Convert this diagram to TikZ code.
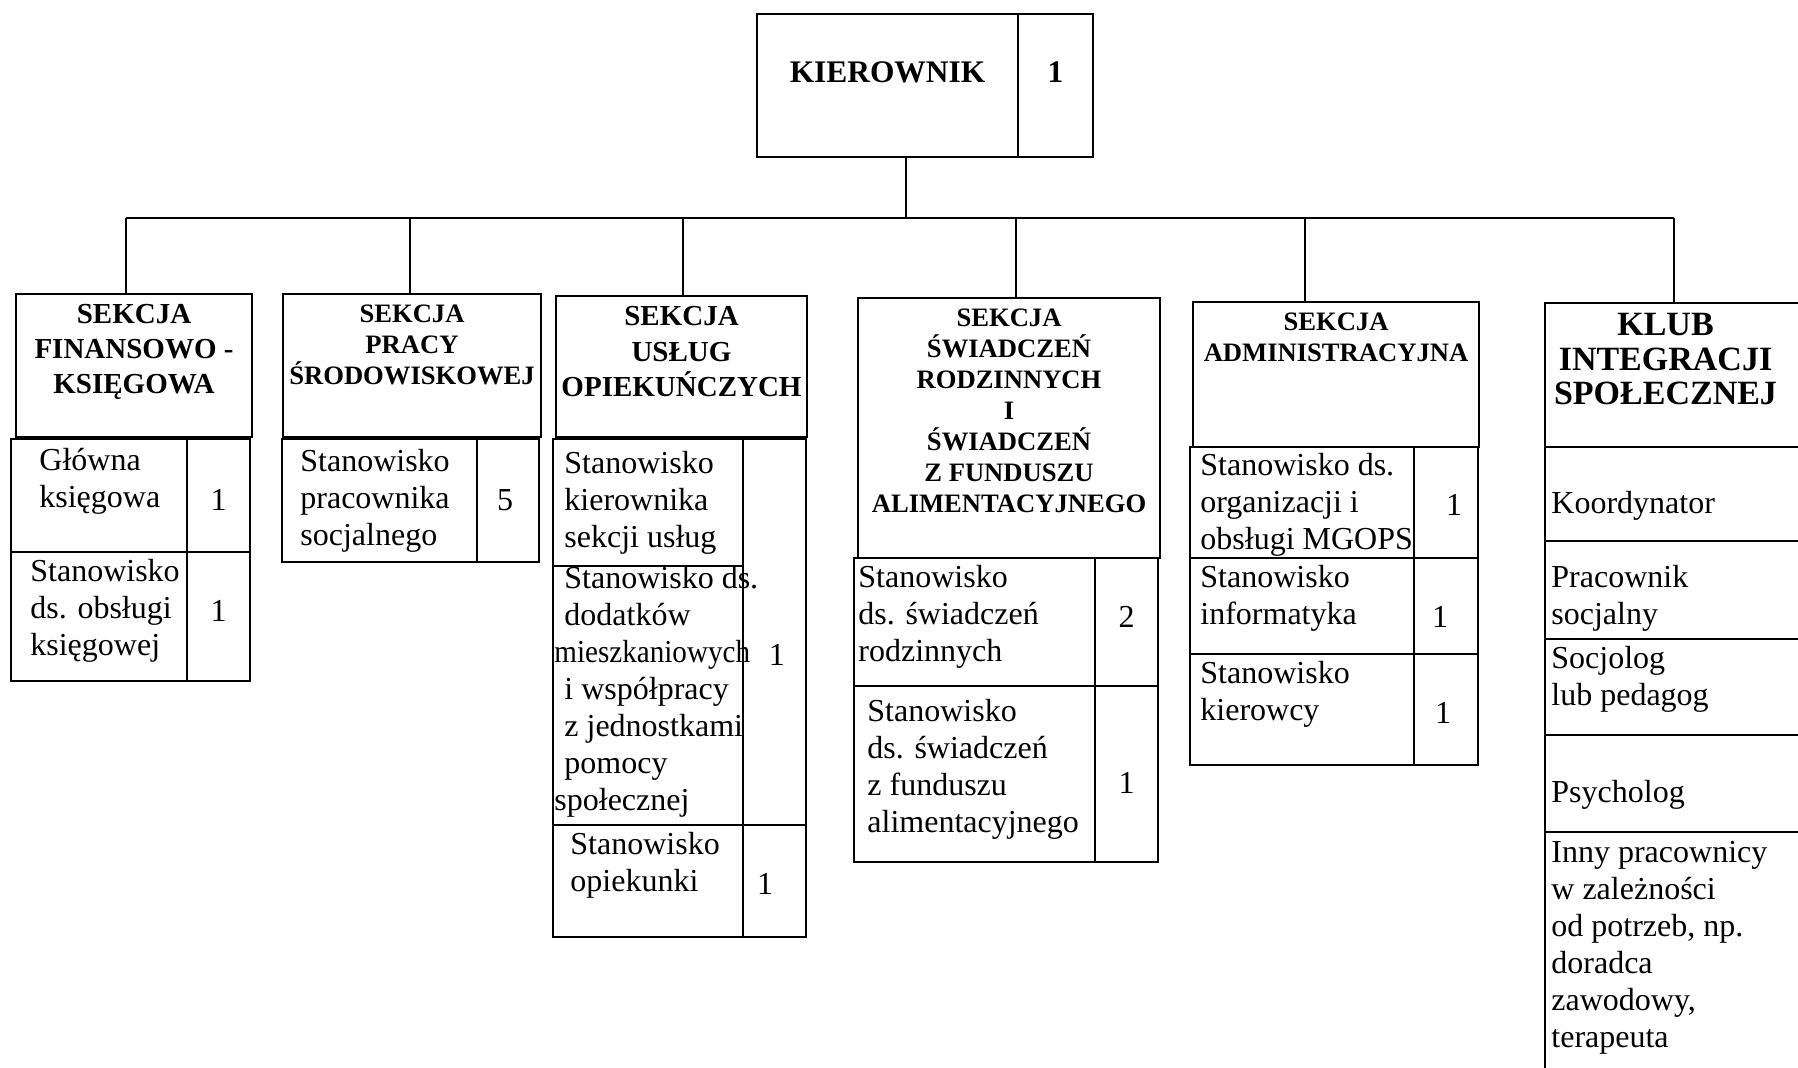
\documentclass[tikz,border=0pt]{standalone}
\usepackage{fontspec}
\setmainfont{Liberation Serif}
\usetikzlibrary{calc}
\tikzstyle{box}=[draw,line width=1pt,inner sep=0pt,outer sep=0pt,anchor=north west]
\tikzstyle{wire}=[line width=1pt]
\tikzstyle{txt}=[inner sep=0pt,anchor=west,align=left,font=\fontsize{16}{18.5}\selectfont]
\tikzstyle{num}=[inner sep=0pt,font=\fontsize{16}{18.5}\selectfont]
\tikzstyle{title}=[inner sep=0pt,anchor=north,align=center,font=\bfseries\fontsize{14.5}{17.4}\selectfont]
\tikzstyle{smalltitle}=[title,font=\bfseries\fontsize{13.3}{15.5}\selectfont]
% all positions are given in pixels of the scan, y going down
\newcommand{\cellbox}[7][]{% [text options] {name}{x1}{y1}{x2}{y2}{text}
\pgfmathsetmacro{\bw}{(#5-#3)/2}
\pgfmathsetmacro{\bh}{(#6-#4)/2}
\node[box,minimum width=\bw pt,minimum height=\bh pt] (#2) at (#3,#4) {};
\node[txt,#1] (#2-t) at (#2.west) {#7};
}
\newcommand{\numbox}[7][]{% [text options] {name}{x1}{y1}{x2}{y2}{number}
\pgfmathsetmacro{\bw}{(#5-#3)/2}
\pgfmathsetmacro{\bh}{(#6-#4)/2}
\node[box,minimum width=\bw pt,minimum height=\bh pt] (#2) at (#3,#4) {};
\node[num,#1] (#2-t) at (#2.center) {#7};
}
\newcommand{\hdrbox}[7][title]{% [title style] {name}{x1}{y1}{x2}{y2}{title}
\pgfmathsetmacro{\bw}{(#5-#3)/2}
\pgfmathsetmacro{\bh}{(#6-#4)/2}
\node[box,minimum width=\bw pt,minimum height=\bh pt] (#2) at (#3,#4) {};
\node[#1] (#2-t) at ([yshift=-5pt]#2.north) {#7};
}
\begin{document}
\begin{tikzpicture}[x=0.5pt,y=-0.5pt]
\useasboundingbox (0,0) rectangle (1798,1068);
\clip (0,0) rectangle (1798,1068);
% top
\numbox[font=\bfseries\fontsize{15.7}{18}\selectfont,yshift=6.7pt]{kier}{757}{14}{1018}{157}{KIEROWNIK}
\numbox[font=\bfseries\fontsize{15.7}{18}\selectfont,yshift=6.7pt]{kiern}{1018}{14}{1093}{157}{1}
% sections
\hdrbox{h1}{16}{294}{252}{437}{SEKCJA\\FINANSOWO -\\KSIĘGOWA}
\cellbox[xshift=14pt,yshift=7pt]{c11}{11}{439}{187}{552}{Główna\\księgowa}
\numbox[yshift=-2.2pt]{n11}{187}{439}{250}{552}{1}
\cellbox[xshift=9.5pt,yshift=2.7pt]{c12}{11}{552}{187}{681}{Stanowisko\\ds. obsługi\\księgowej}
\numbox[yshift=2.7pt]{n12}{187}{552}{250}{681}{1}

\hdrbox[smalltitle]{h2}{283}{294}{541}{437}{SEKCJA\\PRACY\\ŚRODOWISKOWEJ}
\cellbox[xshift=9pt]{c21}{282}{439}{477}{562}{Stanowisko\\pracownika\\socjalnego}
\numbox[xshift=-1.5pt]{n21}{477}{439}{539}{562}{5}

\hdrbox[title,font=\bfseries\fontsize{14.5}{17.8}\selectfont]{h3}{556}{296}{807}{437}{SEKCJA\\USŁUG\\OPIEKUŃCZYCH}
\cellbox[xshift=5.5pt]{c31}{553}{439}{743}{566}{Stanowisko\\kierownika\\sekcji usług}
\cellbox[xshift=0.5pt,yshift=1.7pt]{c32}{553}{566}{743}{825}{\hspace*{5pt}Stanowisko ds.\\\hspace*{5pt}dodatków\\\scalebox{0.91}[1]{mieszkaniowych}\\\hspace*{5pt}i współpracy\\\hspace*{5pt}z jednostkami\\\hspace*{5pt}pomocy\\społecznej}
\numbox[xshift=1.2pt,yshift=-11.5pt]{n31}{743}{439}{806}{825}{1}
\cellbox[xshift=8.5pt,yshift=8pt]{c33}{553}{825}{743}{937}{Stanowisko\\opiekunki}
\numbox[xshift=-4.7pt,yshift=-1.5pt]{n33}{743}{825}{806}{937}{1}

\hdrbox[smalltitle]{h4}{858}{298}{1160}{558}{SEKCJA\\ŚWIADCZEŃ\\RODZINNYCH\\I\\ŚWIADCZEŃ\\Z FUNDUSZU\\ALIMENTACYJNEGO}
\cellbox[xshift=2pt,yshift=2.5pt]{c41}{854}{558}{1095}{686}{Stanowisko\\ds. świadczeń\\rodzinnych}
\numbox[yshift=2.5pt]{n41}{1095}{558}{1158}{686}{2}
\cellbox[xshift=6.5pt,yshift=2.5pt]{c42}{854}{686}{1095}{862}{Stanowisko\\ds. świadczeń\\z funduszu\\alimentacyjnego}
\numbox[yshift=-4.5pt]{n42}{1095}{686}{1158}{862}{1}

\hdrbox[smalltitle]{h5}{1193}{302}{1479}{447}{SEKCJA\\ADMINISTRACYJNA}
\cellbox[xshift=5pt,yshift=-1.2pt]{c51}{1190}{447}{1414}{558}{Stanowisko ds.\\organizacji i\\obsługi MGOPS}
\numbox[xshift=4pt,yshift=-1.2pt]{n51}{1414}{447}{1478}{558}{1}
\cellbox[xshift=5pt,yshift=4pt]{c52}{1190}{558}{1414}{654}{Stanowisko\\informatyka}
\numbox[xshift=-3pt,yshift=-5.5pt]{n52}{1414}{558}{1478}{654}{1}
\cellbox[xshift=5pt,yshift=7.7pt]{c53}{1190}{654}{1414}{765}{Stanowisko\\kierowcy}
\numbox[xshift=-1.5pt,yshift=-1.7pt]{n53}{1414}{654}{1478}{765}{1}

\hdrbox[title,font=\bfseries\fontsize{17}{17.2}\selectfont,xshift=-6pt]{h6}{1545}{303}{1810}{447}{KLUB\\INTEGRACJI\\SPOŁECZNEJ}
\cellbox[xshift=3pt,yshift=-6pt]{k1}{1545}{447}{1810}{541}{Koordynator}
\cellbox[xshift=3pt,yshift=-4.2pt]{k2}{1545}{541}{1810}{639}{Pracownik\\socjalny}
\cellbox[xshift=3pt,yshift=4pt]{k3}{1545}{639}{1810}{735}{Socjolog\\lub pedagog}
\cellbox[xshift=3pt,yshift=-5.7pt]{k4}{1545}{735}{1810}{832}{Psycholog}
\cellbox[xshift=3pt,yshift=9pt]{k5}{1545}{832}{1810}{1100}{Inny pracownicy\\w zależności\\od potrzeb, np.\\doradca\\zawodowy,\\terapeuta}
% connectors
\coordinate (bus) at (906,218);
\draw[wire] (bus |- kier.south) -- (bus);
\foreach \x/\n in {126/h1,410/h2,683/h3,1016/h4,1305/h5,1674/h6} {
  \coordinate (d\n) at (\x,218);
  \draw[wire] (d\n) -- (d\n |- \n.north);
}
\draw[wire] (dh1) -- (dh6);
\end{tikzpicture}
\end{document}
